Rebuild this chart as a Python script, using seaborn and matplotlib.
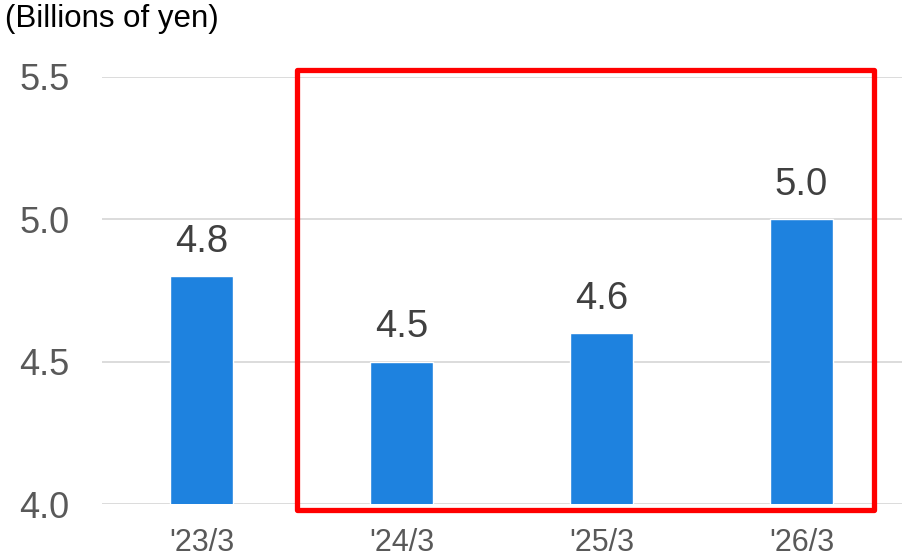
import matplotlib
matplotlib.use("Agg")
import matplotlib.pyplot as plt
import seaborn as sns
import pandas as pd
from matplotlib.patches import Rectangle

categories = ["'23/3", "'24/3", "'25/3", "'26/3"]
values = [4.8, 4.5, 4.6, 5.0]
value_labels = ["4.8", "4.5", "4.6", "5.0"]
y_ticks = [4.0, 4.5, 5.0, 5.5]
unit_label = "(Billions of yen)"

sns.set_theme(style="white")
plt.rcParams["font.family"] = ["Liberation Sans", "DejaVu Sans"]

df = pd.DataFrame({"period": categories, "value": values})

fig = plt.figure(figsize=(9.05, 5.56), dpi=100)
ax = fig.add_axes([101.5 / 905, 52 / 556, 800 / 905, 427 / 556])

sns.barplot(data=df, x="period", y="value", color="#1E82DF", saturation=1,
            width=0.315, ax=ax, zorder=3)

ax.set_ylim(4.0, 5.5)
ax.set_xlim(-0.5, 3.5)
ax.set_yticks(y_ticks)
ax.set_yticklabels([f"{t:.1f}" for t in y_ticks])
ax.yaxis.grid(True, color="#D9D9D9", linewidth=1.3, zorder=0)
ax.xaxis.grid(False)
for s in ax.spines.values():
    s.set_visible(False)
ax.set_xlabel("")
ax.set_ylabel("")
ax.tick_params(axis="y", labelsize=26, labelcolor="#595959", length=0, pad=23)
ax.tick_params(axis="x", labelsize=22, labelcolor="#595959", length=0, pad=17)

for i, (v, lab) in enumerate(zip(values, value_labels)):
    ax.annotate(lab, (i, v), xytext=(0, 12), textcoords="offset points",
                ha="center", va="bottom", fontsize=27.5, color="#404040")

# red highlight box around forecast periods
x0 = (296.5 - 101.5) / 800
x1 = (874 - 101.5) / 800
y0 = (504 - 510) / 427
y1 = (504 - 69.5) / 427
rect = Rectangle((x0, y0), x1 - x0, y1 - y0, transform=ax.transAxes,
                 fill=False, edgecolor="#FF0000", linewidth=3.8,
                 clip_on=False, zorder=5, joinstyle="round")
ax.add_patch(rect)

fig.text(5 / 905, 1 - 4 / 556, unit_label, ha="left", va="top",
         fontsize=22.5, color="#000000")

fig.savefig("out.png", dpi=100)
